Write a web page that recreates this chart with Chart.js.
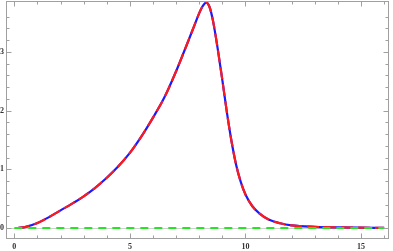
<!DOCTYPE html>
<html>
<head>
<meta charset="utf-8">
<script src="https://cdn.jsdelivr.net/npm/chart.js@4/dist/chart.umd.min.js"></script>
<style>
html,body{margin:0;padding:0;background:#fff;}
#wrap{width:393px;height:251px;position:relative;}
</style>
</head>
<body>
<div id="wrap"><canvas id="c" width="393" height="251"></canvas></div>
<script>
// Curve samples
const xValues = [0.15,0.5,1,1.5,2,2.5,3,3.5,4,4.5,5,5.5,6,6.5,7,7.5,7.8,8.0,8.15,8.3,8.45,8.6,8.8,9.0,9.2,9.4,9.6,9.8,10.0,10.3,10.6,11,11.5,12,13,14,15,16];
const yValues = [0,0.02,0.085,0.185,0.30,0.415,0.54,0.685,0.855,1.05,1.28,1.56,1.88,2.23,2.67,3.16,3.46,3.66,3.78,3.84,3.76,3.52,3.05,2.52,1.96,1.47,1.07,0.78,0.57,0.37,0.25,0.145,0.08,0.045,0.02,0.01,0.005,0.003];
const zeroX = [0,16];
const zeroY = [0,0];
const xMajorTicks = [0,5,10,15];
const yMajorTicks = [0,1,2,3];
const xMinorStep = 1;
const yMinorStep = 0.2;

const curve = xValues.map((x,i)=>({x:x,y:yValues[i]}));
const zeroLine = zeroX.map((x,i)=>({x:x,y:zeroY[i]}));

const framePlugin = {
  id:'frame',
  beforeDatasetsDraw(chart){
    const {ctx, chartArea:a, scales:{x,y}} = chart;
    ctx.save();
    ctx.strokeStyle='#d0d0d0';
    ctx.lineWidth=1;
    const y0=Math.round(y.getPixelForValue(0))+0.5;
    ctx.beginPath();ctx.moveTo(a.left,y0);ctx.lineTo(a.right,y0);ctx.stroke();
    ctx.restore();
  },
  afterDatasetsDraw(chart){
    const {ctx, chartArea:a, scales:{x,y}} = chart;
    ctx.save();
    ctx.strokeStyle='#a0a0a0';
    ctx.lineWidth=1;
    const L=Math.round(a.left)+0.5, R=Math.round(a.right)-0.5, T=Math.round(a.top)+0.5, B=Math.round(a.bottom)-0.5;
    ctx.strokeRect(L,T,R-L,B-T);
    ctx.beginPath();
    for(let v=0; v<=16.0001; v+=xMinorStep){
      const px=Math.round(x.getPixelForValue(v))+0.5;
      const major = xMajorTicks.includes(Math.round(v*1000)/1000);
      const len = major?5:3;
      ctx.moveTo(px,B);ctx.lineTo(px,B-len);
      ctx.moveTo(px,T);ctx.lineTo(px,T+len);
    }
    for(let k=0; k*yMinorStep<=3.8; k++){
      const v=k*yMinorStep;
      const py=Math.round(y.getPixelForValue(v))+0.5;
      const major = (k%5===0);
      const len = major?5:3;
      ctx.moveTo(L,py);ctx.lineTo(L+len,py);
      ctx.moveTo(R,py);ctx.lineTo(R-len,py);
    }
    ctx.stroke();
    ctx.fillStyle='#333';
    ctx.font='bold 8px "Liberation Serif", "DejaVu Serif", serif';
    ctx.textAlign='center';ctx.textBaseline='middle';
    xMajorTicks.forEach(v=>{
      ctx.fillText(String(v), x.getPixelForValue(v), 247);
    });
    ctx.textAlign='right';
    yMajorTicks.forEach(v=>{
      ctx.fillText(String(v), 4, y.getPixelForValue(v));
    });
    ctx.restore();
  }
};

new Chart(document.getElementById('c'),{
  type:'line',
  data:{datasets:[
    {data:zeroLine, borderColor:'#22e822', borderWidth:2.2, borderDash:[8,6], pointRadius:0, order:0, fill:false},
    {data:curve, borderColor:'#ff1a1a', borderWidth:2.2, borderDash:[12,5], pointRadius:0, order:1, cubicInterpolationMode:'monotone', fill:false},
    {data:curve, borderColor:'#1a1aff', borderWidth:2.2, pointRadius:0, order:2, cubicInterpolationMode:'monotone', fill:false}
  ]},
  options:{
    responsive:false, animation:false,
    layout:{padding:{left:6,right:4,top:0.5,bottom:12}},
    plugins:{legend:{display:false},tooltip:{enabled:false}},
    scales:{
      x:{type:'linear',min:-0.36,max:16.21,display:false},
      y:{type:'linear',min:-0.1875,max:3.875,display:false}
    }
  },
  plugins:[framePlugin]
});
</script>
</body>
</html>
